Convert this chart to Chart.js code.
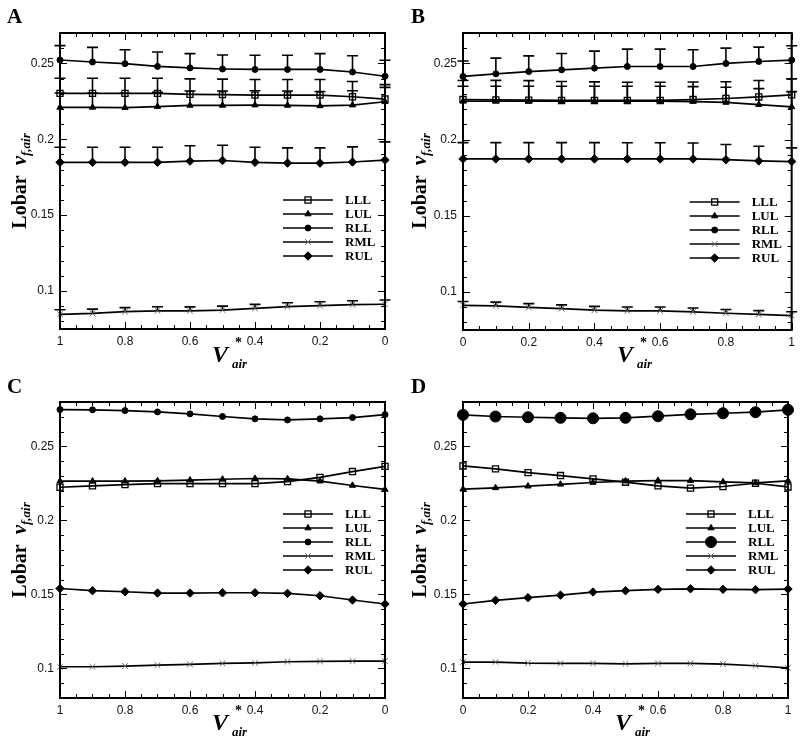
<!DOCTYPE html>
<html>
<head>
<meta charset="utf-8">
<script src="https://cdn.jsdelivr.net/npm/chart.js@4.4.0/dist/chart.umd.min.js"></script>
<style>
  body { margin: 0; background: #fff; width: 800px; height: 743px; position: relative; overflow: hidden; font-family: "Liberation Serif", serif; }
  canvas { position: absolute; }
  .panel { position: absolute; font-weight: bold; font-size: 21px; line-height: 21px; }
  .ytitle { position: absolute; transform: translate(-50%, -50%) rotate(-90deg); white-space: nowrap; font-weight: bold; font-size: 20px; line-height: 20px; }
  .ytitle i { font-size: 21px; }
  .ytitle sub { font-size: 13px; font-style: italic; vertical-align: -4px; }
  .xtitle { position: absolute; width: 44px; height: 30px; font-weight: bold; font-style: italic; }
  .xtitle .v { position: absolute; left: 0; top: 0; font-size: 24px; line-height: 24px; }
  .xtitle .st { position: absolute; left: 23px; top: -6px; font-size: 14px; line-height: 14px; font-style: normal; }
  .xtitle .dn { position: absolute; left: 20px; top: 15px; font-size: 13px; line-height: 13px; }
</style>
</head>
<body>
<canvas id="cA" width="400" height="370" style="left:0;top:0"></canvas>
<canvas id="cB" width="400" height="370" style="left:400px;top:0"></canvas>
<canvas id="cC" width="400" height="373" style="left:0;top:370px"></canvas>
<canvas id="cD" width="400" height="373" style="left:400px;top:370px"></canvas>

<div class="panel" style="left:7px;top:6px">A</div>
<div class="panel" style="left:411px;top:6px">B</div>
<div class="panel" style="left:7px;top:376px">C</div>
<div class="panel" style="left:411px;top:376px">D</div>

<div class="ytitle" style="left:22px;top:181px">Lobar&nbsp;&nbsp;<i>v</i><sub>f,air</sub></div>
<div class="ytitle" style="left:422px;top:181px">Lobar&nbsp;&nbsp;<i>v</i><sub>f,air</sub></div>
<div class="ytitle" style="left:22px;top:550px">Lobar&nbsp;&nbsp;<i>v</i><sub>f,air</sub></div>
<div class="ytitle" style="left:422px;top:550px">Lobar&nbsp;&nbsp;<i>v</i><sub>f,air</sub></div>

<div class="xtitle" style="left:212px;top:342px"><span class="v">V</span><span class="st">*</span><span class="dn">air</span></div>
<div class="xtitle" style="left:617px;top:342px"><span class="v">V</span><span class="st">*</span><span class="dn">air</span></div>
<div class="xtitle" style="left:212px;top:710px"><span class="v">V</span><span class="st">*</span><span class="dn">air</span></div>
<div class="xtitle" style="left:615px;top:710px"><span class="v">V</span><span class="st">*</span><span class="dn">air</span></div>

<script>
// x 位置
const xsDesc = [1, 0.9, 0.8, 0.7, 0.6, 0.5, 0.4, 0.3, 0.2, 0.1, 0];
const xsAsc = [0, 0.1, 0.2, 0.3, 0.4, 0.5, 0.6, 0.7, 0.8, 0.9, 1];
const xTicks = [0, 0.2, 0.4, 0.6, 0.8, 1];
const yTicks = [0.1, 0.15, 0.2, 0.25];
const seriesNames = ['LLL', 'LUL', 'RLL', 'RML', 'RUL'];

// A (x: 1 -> 0)
const aLLL = [0.2302, 0.2302, 0.2302, 0.2302, 0.2296, 0.2294, 0.2291, 0.2291, 0.2291, 0.2280, 0.2265];
const aLUL = [0.2210, 0.2210, 0.2208, 0.2215, 0.2223, 0.2223, 0.2225, 0.2223, 0.2220, 0.2225, 0.2247];
const aRLL = [0.2522, 0.2509, 0.2498, 0.2480, 0.2470, 0.2463, 0.2460, 0.2460, 0.2460, 0.2443, 0.2415];
const aRML = [0.0847, 0.0853, 0.0864, 0.0870, 0.0870, 0.0875, 0.0886, 0.0897, 0.0904, 0.0910, 0.0913];
const aRUL = [0.1848, 0.1848, 0.1848, 0.1848, 0.1856, 0.1860, 0.1848, 0.1843, 0.1843, 0.1850, 0.1863];
const aErrLLL = [0.0100, 0.0100, 0.0100, 0.0100, 0.0102, 0.0102, 0.0103, 0.0103, 0.0103, 0.0100, 0.0095];
const aErrLUL = [0.0095, 0.0095, 0.0095, 0.0095, 0.0095, 0.0095, 0.0095, 0.0095, 0.0095, 0.0095, 0.0095];
const aErrRLL = [0.0095, 0.0096, 0.0092, 0.0095, 0.0094, 0.0092, 0.0093, 0.0093, 0.0104, 0.0107, 0.0105];
const aErrRML = [0.0030, 0.0028, 0.0027, 0.0027, 0.0026, 0.0026, 0.0026, 0.0026, 0.0026, 0.0026, 0.0028];
const aErrRUL = [0.0099, 0.0099, 0.0099, 0.0099, 0.0101, 0.0101, 0.0099, 0.0100, 0.0100, 0.0100, 0.0120];

// B (x: 0 -> 1)
const bLLL = [0.2263, 0.2261, 0.2259, 0.2257, 0.2257, 0.2257, 0.2257, 0.2263, 0.2270, 0.2280, 0.2294];
const bLUL = [0.2252, 0.2252, 0.2252, 0.2252, 0.2252, 0.2252, 0.2252, 0.2250, 0.2244, 0.2230, 0.2215];
const bRLL = [0.2415, 0.2432, 0.2447, 0.2458, 0.2469, 0.2480, 0.2480, 0.2480, 0.2500, 0.2513, 0.2522];
const bRML = [0.0912, 0.0908, 0.0898, 0.0890, 0.0880, 0.0876, 0.0876, 0.0869, 0.0860, 0.0852, 0.0845];
const bRUL = [0.1873, 0.1873, 0.1873, 0.1873, 0.1873, 0.1873, 0.1873, 0.1873, 0.1868, 0.1860, 0.1856];
const bErrLLL = [0.0125, 0.0128, 0.0128, 0.0125, 0.0122, 0.0120, 0.0120, 0.0115, 0.0110, 0.0108, 0.0105];
const bErrLUL = [0.0098, 0.0098, 0.0098, 0.0098, 0.0098, 0.0098, 0.0098, 0.0098, 0.0100, 0.0105, 0.0100];
const bErrRLL = [0.0101, 0.0103, 0.0103, 0.0107, 0.0112, 0.0114, 0.0114, 0.0110, 0.0101, 0.0094, 0.0094];
const bErrRML = [0.0025, 0.0025, 0.0025, 0.0025, 0.0025, 0.0025, 0.0025, 0.0025, 0.0025, 0.0025, 0.0025];
const bErrRUL = [0.0107, 0.0107, 0.0107, 0.0107, 0.0107, 0.0106, 0.0106, 0.0105, 0.0100, 0.0096, 0.0090];

// C (x: 1 -> 0)
const cLLL = [0.2224, 0.2233, 0.2242, 0.2249, 0.2249, 0.2249, 0.2249, 0.2262, 0.2291, 0.2330, 0.2365];
const cLUL = [0.2265, 0.2265, 0.2265, 0.2267, 0.2272, 0.2278, 0.2283, 0.2281, 0.2265, 0.2236, 0.2209];
const cRLL = [0.2749, 0.2747, 0.2742, 0.2733, 0.2720, 0.2702, 0.2686, 0.2679, 0.2686, 0.2695, 0.2715];
const cRML = [0.1011, 0.1011, 0.1016, 0.1022, 0.1027, 0.1034, 0.1038, 0.1045, 0.1047, 0.1049, 0.1049];
const cRUL = [0.1540, 0.1525, 0.1518, 0.1509, 0.1509, 0.1511, 0.1511, 0.1507, 0.1491, 0.1462, 0.1435];

// D (x: 0 -> 1)
const dLLL = [0.2368, 0.2348, 0.2323, 0.2303, 0.2280, 0.2258, 0.2233, 0.2218, 0.2229, 0.2251, 0.2226];
const dLUL = [0.2211, 0.2220, 0.2231, 0.2244, 0.2256, 0.2265, 0.2269, 0.2269, 0.2260, 0.2253, 0.2267];
const dRLL = [0.2713, 0.2702, 0.2697, 0.2693, 0.2690, 0.2693, 0.2704, 0.2717, 0.2724, 0.2731, 0.2747];
const dRML = [0.1043, 0.1043, 0.1036, 0.1034, 0.1034, 0.1031, 0.1034, 0.1034, 0.1029, 0.1018, 0.1004];
const dRUL = [0.1435, 0.1460, 0.1478, 0.1495, 0.1516, 0.1525, 0.1534, 0.1538, 0.1534, 0.1532, 0.1536];

const fmt = v => String(Math.round(v * 1000) / 1000);

// 标记样式
function markerStyle(name, big) {
  switch (name) {
    case 'LLL': return { pointStyle: 'rect', pointRadius: 4.3, pointBackgroundColor: 'rgba(0,0,0,0)', pointBorderColor: '#000', pointBorderWidth: 1.3 };
    case 'LUL': return { pointStyle: 'triangle', pointRadius: 3.6, pointBackgroundColor: '#000', pointBorderColor: '#000', pointBorderWidth: 1 };
    case 'RLL': return { pointStyle: 'circle', pointRadius: big ? 5.5 : 3, pointBackgroundColor: '#000', pointBorderColor: '#000', pointBorderWidth: 1 };
    case 'RML': return { pointStyle: 'crossRot', pointRadius: 4, pointBackgroundColor: '#666', pointBorderColor: '#666', pointBorderWidth: 1 };
    default: return { pointStyle: 'rectRot', pointRadius: 4.2, pointBackgroundColor: '#000', pointBorderColor: '#000', pointBorderWidth: 1 };
  }
}

function makeSets(xs, values, errs, big) {
  return seriesNames.map((name, k) => Object.assign({
    label: name,
    data: xs.map((x, i) => ({ x: x, y: values[k][i] })),
    errUp: errs ? errs[k] : null,
    borderColor: '#000',
    borderWidth: 1.7,
    tension: 0,
    clip: false
  }, markerStyle(name, big)));
}

// 误差棒
const errorBars = {
  id: 'errorBars',
  beforeDatasetsDraw(chart) {
    const ctx = chart.ctx, xs = chart.scales.x, ys = chart.scales.y;
    ctx.save();
    ctx.strokeStyle = '#000';
    ctx.lineWidth = 1.6;
    chart.data.datasets.forEach(ds => {
      if (!ds.errUp) return;
      ds.data.forEach((p, i) => {
        const px = xs.getPixelForValue(p.x);
        const py = ys.getPixelForValue(p.y);
        const pt = ys.getPixelForValue(p.y + ds.errUp[i]);
        ctx.beginPath();
        ctx.moveTo(px, py);
        ctx.lineTo(px, pt);
        ctx.moveTo(px - 5.5, pt);
        ctx.lineTo(px + 5.5, pt);
        ctx.stroke();
      });
    });
    ctx.restore();
  }
};

// 边框和内向刻度
const frameTicks = {
  id: 'frameTicks',
  afterDraw(chart) {
    const ctx = chart.ctx, a = chart.chartArea, xs = chart.scales.x, ys = chart.scales.y;
    ctx.save();
    ctx.strokeStyle = '#000';
    ctx.lineWidth = 1;
    ctx.beginPath();
    for (let v = 0; v <= 1.0001; v += 0.05) {
      const major = Math.abs(v * 5 - Math.round(v * 5)) < 1e-6;
      const len = major ? 7 : 4;
      const px = Math.round(xs.getPixelForValue(v)) + 0.5;
      ctx.moveTo(px, a.bottom); ctx.lineTo(px, a.bottom - len);
      ctx.moveTo(px, a.top); ctx.lineTo(px, a.top + len);
    }
    const start = Math.ceil(ys.min * 100 - 1e-6);
    for (let j = start; j / 100 <= ys.max + 1e-9; j++) {
      const major = j % 5 === 0;
      const len = major ? 7 : 4;
      const py = Math.round(ys.getPixelForValue(j / 100)) + 0.5;
      ctx.moveTo(a.left, py); ctx.lineTo(a.left + len, py);
      ctx.moveTo(a.right, py); ctx.lineTo(a.right - len, py);
    }
    ctx.stroke();
    ctx.lineWidth = 2;
    ctx.strokeRect(a.left, a.top, a.right - a.left, a.bottom - a.top);
    ctx.restore();
  }
};

// 图内图例
const boxLegend = {
  id: 'boxLegend',
  afterDraw(chart, args, opts) {
    const ctx = chart.ctx, a = chart.chartArea;
    const x0 = a.right - opts.fromRight;
    ctx.save();
    chart.data.datasets.forEach((ds, i) => {
      const y = a.top + opts.fromTop + i * 14;
      ctx.strokeStyle = '#000';
      ctx.lineWidth = 1.7;
      ctx.beginPath();
      ctx.moveTo(x0, y);
      ctx.lineTo(x0 + 50, y);
      ctx.stroke();
      ctx.fillStyle = ds.pointBackgroundColor;
      ctx.strokeStyle = ds.pointBorderColor;
      ctx.lineWidth = ds.pointBorderWidth;
      Chart.helpers.drawPoint(ctx, { pointStyle: ds.pointStyle, radius: ds.pointRadius, rotation: 0, borderWidth: ds.pointBorderWidth }, x0 + 25, y);
      ctx.fillStyle = '#000';
      ctx.font = 'bold 13px "Liberation Serif"';
      ctx.textBaseline = 'middle';
      ctx.fillText(ds.label, x0 + 62, y + 1);
    });
    ctx.restore();
  }
};

function makeChart(id, cfg) {
  new Chart(document.getElementById(id), {
    type: 'line',
    data: { datasets: cfg.sets },
    plugins: [errorBars, frameTicks, boxLegend],
    options: {
      responsive: false,
      animation: false,
      layout: { padding: { left: 0, top: cfg.top, right: cfg.right, bottom: 0 } },
      plugins: {
        legend: { display: false },
        tooltip: { enabled: false },
        boxLegend: { fromRight: 102, fromTop: cfg.legendTop }
      },
      scales: {
        x: {
          type: 'linear', min: 0, max: 1, reverse: cfg.reverse,
          grid: { display: false, drawTicks: false },
          border: { display: false },
          ticks: { autoSkip: false, maxRotation: 0, padding: 5, color: '#111', font: { family: 'Liberation Sans', size: 12 }, callback: v => fmt(v) },
          afterBuildTicks: s => { s.ticks = xTicks.map(v => ({ value: v })); },
          afterFit: s => { s.height = cfg.xH; }
        },
        y: {
          min: cfg.yMin, max: cfg.yMax,
          grid: { display: false, drawTicks: false },
          border: { display: false },
          ticks: { autoSkip: false, padding: 6, color: '#111', font: { family: 'Liberation Sans', size: 12 }, callback: v => fmt(v) },
          afterBuildTicks: s => { s.ticks = yTicks.map(v => ({ value: v })); },
          afterFit: s => { s.width = cfg.yW; }
        }
      }
    }
  });
}

makeChart('cA', {
  sets: makeSets(xsDesc, [aLLL, aLUL, aRLL, aRML, aRUL], [aErrLLL, aErrLUL, aErrRLL, aErrRML, aErrRUL]),
  reverse: true, yMin: 0.075, yMax: 0.27, top: 33, right: 15, yW: 60, xH: 41, legendTop: 167
});
makeChart('cB', {
  sets: makeSets(xsAsc, [bLLL, bLUL, bRLL, bRML, bRUL], [bErrLLL, bErrLUL, bErrRLL, bErrRML, bErrRUL]),
  reverse: false, yMin: 0.075, yMax: 0.27, top: 33, right: 8, yW: 63, xH: 40, legendTop: 169
});
makeChart('cC', {
  sets: makeSets(xsDesc, [cLLL, cLUL, cRLL, cRML, cRUL], null),
  reverse: true, yMin: 0.08, yMax: 0.28, top: 32, right: 15, yW: 60, xH: 45, legendTop: 112
});
makeChart('cD', {
  sets: makeSets(xsAsc, [dLLL, dLUL, dRLL, dRML, dRUL], null, true),
  reverse: false, yMin: 0.08, yMax: 0.28, top: 32, right: 12, yW: 63, xH: 45, legendTop: 112
});
</script>
</body>
</html>
